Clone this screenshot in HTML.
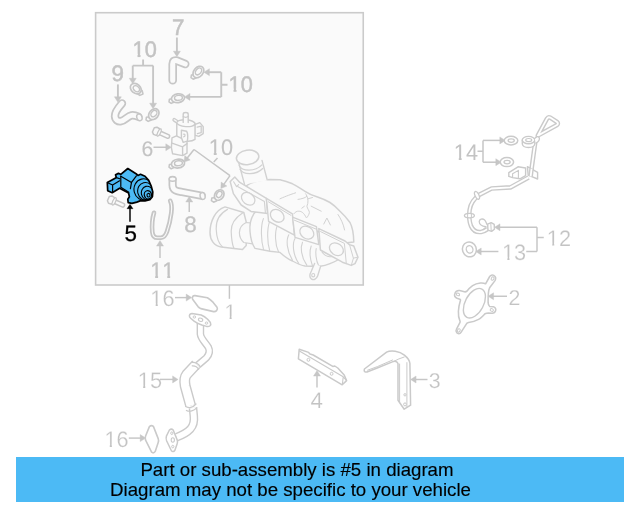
<!DOCTYPE html>
<html><head><meta charset="utf-8"><title>Diagram</title>
<style>
html,body{margin:0;padding:0;background:#fff;}
body{width:640px;height:512px;overflow:hidden;position:relative;font-family:"Liberation Sans",sans-serif;}
#banner{position:absolute;left:16px;top:457px;width:608px;height:44.5px;background:#4cbaf5;}
.bl{filter:blur(0.3px);-webkit-text-stroke:0.15px #000;position:absolute;white-space:nowrap;color:#000;font-family:"Liberation Sans",sans-serif;font-size:18.66px;line-height:21px;height:21px;}
svg{position:absolute;left:0;top:0;}
</style></head><body>
<svg width="640" height="512" viewBox="0 0 640 512" font-family="Liberation Sans, sans-serif" text-rendering="geometricPrecision" style="font-kerning:none">
<rect x="95.6" y="12.7" width="267.65" height="272.3" fill="#fafafa"/>
<g style="filter:blur(0.4px)">
<rect x="95.6" y="12.7" width="267.65" height="272.3" fill="none" stroke="#cbcbcb" stroke-width="1.6"/>
<path d="M229.4,285V298.8" stroke="#c6c6c6" stroke-width="1.45" fill="none"/>
<text transform="translate(171.9 34.7) scale(1.0 1.0)" x="0" y="0" font-size="22.4" fill="#c3c3c3" stroke="#c3c3c3" stroke-width="0.5">7</text>
<clipPath id="k1"><rect x="-2" y="-22.40" width="28.92" height="19.23"/><rect x="5.13" y="-3.27" width="2.98" height="3.52"/><rect x="12.46" y="-3.27" width="13.46" height="7.17"/></clipPath>
<text transform="translate(132.6 57.0) scale(0.97 1.0)" x="0" y="0" font-size="22.4" fill="#c3c3c3" stroke="#c3c3c3" stroke-width="0.5" clip-path="url(#k1)">10</text>
<text transform="translate(111.4 81.4) scale(1.0 1.0)" x="0" y="0" font-size="22.4" fill="#c3c3c3" stroke="#c3c3c3" stroke-width="0.5">9</text>
<clipPath id="k2"><rect x="-2" y="-22.40" width="28.92" height="19.23"/><rect x="5.13" y="-3.27" width="2.98" height="3.52"/><rect x="12.46" y="-3.27" width="13.46" height="7.17"/></clipPath>
<text transform="translate(228.6 91.6) scale(0.97 1.0)" x="0" y="0" font-size="22.4" fill="#c3c3c3" stroke="#c3c3c3" stroke-width="0.5" clip-path="url(#k2)">10</text>
<text transform="translate(141.4 155.5) scale(1.0 1.0)" x="0" y="0" font-size="21.2" fill="#c3c3c3" stroke="#c3c3c3" stroke-width="0.1">6</text>
<clipPath id="k3"><rect x="-2" y="-22.40" width="28.92" height="19.23"/><rect x="5.13" y="-3.27" width="2.98" height="3.32"/><rect x="12.46" y="-3.27" width="13.46" height="7.17"/></clipPath>
<text transform="translate(208.8 155.2) scale(0.97 1.0)" x="0" y="0" font-size="22.4" fill="#c3c3c3" stroke="#c3c3c3" stroke-width="0.1" clip-path="url(#k3)">10</text>
<text transform="translate(124.6 241.3) scale(1.0 1.0)" x="0" y="0" font-size="22.4" fill="#000" stroke="#000" stroke-width="0.3">5</text>
<text transform="translate(184.2 232.3) scale(1.0 1.0)" x="0" y="0" font-size="22.4" fill="#c3c3c3" stroke="#c3c3c3" stroke-width="0.25">8</text>
<clipPath id="k4"><rect x="-2" y="-22.40" width="28.92" height="19.23"/><rect x="5.13" y="-3.27" width="2.98" height="3.40"/><rect x="17.59" y="-3.27" width="2.98" height="3.40"/></clipPath>
<text transform="translate(150.2 277.8) scale(0.97 1.0)" x="0" y="0" font-size="22.4" fill="#c3c3c3" stroke="#c3c3c3" stroke-width="0.25" clip-path="url(#k4)">11</text>
<clipPath id="k5"><rect x="-2" y="-22.40" width="28.92" height="19.23"/><rect x="5.13" y="-3.27" width="2.98" height="3.27"/><rect x="12.46" y="-3.27" width="13.46" height="7.17"/></clipPath>
<text transform="translate(453.8 160.2) scale(0.97 1.0)" x="0" y="0" font-size="22.4" fill="#c3c3c3" clip-path="url(#k5)">14</text>
<clipPath id="k6"><rect x="-2" y="-22.40" width="28.92" height="19.23"/><rect x="5.53" y="-3.27" width="2.18" height="3.27"/><rect x="12.46" y="-3.27" width="13.46" height="7.17"/></clipPath>
<text transform="translate(546.8 245.6) scale(0.97 1.0)" x="0" y="0" font-size="22.4" fill="#c3c3c3" stroke="#ffffff" stroke-width="0.2" clip-path="url(#k6)">12</text>
<clipPath id="k7"><rect x="-2" y="-22.40" width="28.92" height="19.23"/><rect x="5.53" y="-3.27" width="2.18" height="3.27"/><rect x="12.46" y="-3.27" width="13.46" height="7.17"/></clipPath>
<text transform="translate(502.0 260.0) scale(0.97 1.0)" x="0" y="0" font-size="22.4" fill="#c3c3c3" stroke="#ffffff" stroke-width="0.2" clip-path="url(#k7)">13</text>
<text transform="translate(508.4 305.0) scale(1.0 1.0)" x="0" y="0" font-size="21.4" fill="#c3c3c3" stroke="#ffffff" stroke-width="0.2">2</text>
<text transform="translate(428.8 388.0) scale(1.0 1.0)" x="0" y="0" font-size="21.4" fill="#c3c3c3" stroke="#ffffff" stroke-width="0.2">3</text>
<text transform="translate(310.4 407.6) scale(1.0 1.0)" x="0" y="0" font-size="22.4" fill="#c3c3c3" stroke="#ffffff" stroke-width="0.2">4</text>
<clipPath id="k8"><rect x="-2" y="-21.00" width="15.68" height="17.93"/><rect x="5.18" y="-3.17" width="2.06" height="3.17"/></clipPath>
<text transform="translate(224.4 319.4) scale(1.0 1.0)" x="0" y="0" font-size="21" fill="#c3c3c3" stroke="#ffffff" stroke-width="0.2" clip-path="url(#k8)">1</text>
<clipPath id="k9"><rect x="-2" y="-22.40" width="28.92" height="19.23"/><rect x="5.53" y="-3.27" width="2.18" height="3.27"/><rect x="12.46" y="-3.27" width="13.46" height="7.17"/></clipPath>
<text transform="translate(150.3 306.4) scale(0.97 1.0)" x="0" y="0" font-size="22.4" fill="#c3c3c3" stroke="#ffffff" stroke-width="0.2" clip-path="url(#k9)">16</text>
<clipPath id="k10"><rect x="-2" y="-22.40" width="28.92" height="19.23"/><rect x="5.53" y="-3.27" width="2.18" height="3.27"/><rect x="12.46" y="-3.27" width="13.46" height="7.17"/></clipPath>
<text transform="translate(137.8 388.4) scale(0.97 1.0)" x="0" y="0" font-size="22.4" fill="#c3c3c3" stroke="#ffffff" stroke-width="0.25" clip-path="url(#k10)">15</text>
<clipPath id="k11"><rect x="-2" y="-22.40" width="28.92" height="19.23"/><rect x="5.53" y="-3.27" width="2.18" height="3.27"/><rect x="12.46" y="-3.27" width="13.46" height="7.17"/></clipPath>
<text transform="translate(104.4 446.9) scale(0.97 1.0)" x="0" y="0" font-size="22.4" fill="#c3c3c3" stroke="#ffffff" stroke-width="0.2" clip-path="url(#k11)">16</text>
<path d="M176.90,37.50L176.90,52.20" stroke="#c6c6c6" stroke-width="1.9" fill="none"/>
<path d="M176.90,56.70L173.40,51.20L180.40,51.20Z" fill="#c6c6c6" stroke="#c6c6c6" stroke-width="0.4" stroke-linejoin="round"/>
<path d="M143.1,59.4V65.6M132.75,65.6H153.1" stroke="#c6c6c6" stroke-width="1.9" fill="none"/>
<path d="M132.75,65.60L132.75,79.30" stroke="#c6c6c6" stroke-width="1.9" fill="none"/>
<path d="M132.75,83.80L129.25,78.30L136.25,78.30Z" fill="#c6c6c6" stroke="#c6c6c6" stroke-width="0.4" stroke-linejoin="round"/>
<path d="M153.10,65.60L153.10,104.20" stroke="#c6c6c6" stroke-width="1.9" fill="none"/>
<path d="M153.10,108.70L149.60,103.20L156.60,103.20Z" fill="#c6c6c6" stroke="#c6c6c6" stroke-width="0.4" stroke-linejoin="round"/>
<path d="M117.90,84.40L117.90,97.80" stroke="#c6c6c6" stroke-width="1.9" fill="none"/>
<path d="M117.90,102.30L114.40,96.80L121.40,96.80Z" fill="#c6c6c6" stroke="#c6c6c6" stroke-width="0.4" stroke-linejoin="round"/>
<path d="M221.25,72.2V96.9M221.25,84.8H227.5" stroke="#c6c6c6" stroke-width="1.9" fill="none"/>
<path d="M221.25,72.20L208.40,72.20" stroke="#c6c6c6" stroke-width="1.9" fill="none"/>
<path d="M203.90,72.20L209.40,68.70L209.40,75.70Z" fill="#c6c6c6" stroke="#c6c6c6" stroke-width="0.4" stroke-linejoin="round"/>
<path d="M221.25,96.90L189.00,96.90" stroke="#c6c6c6" stroke-width="1.9" fill="none"/>
<path d="M184.50,96.90L190.00,93.40L190.00,100.40Z" fill="#c6c6c6" stroke="#c6c6c6" stroke-width="0.4" stroke-linejoin="round"/>
<path d="M153.50,147.25L166.80,147.25" stroke="#c6c6c6" stroke-width="1.45" fill="none"/>
<path d="M171.30,147.25L165.80,150.75L165.80,143.75Z" fill="#c6c6c6" stroke="#c6c6c6" stroke-width="0.4" stroke-linejoin="round"/>
<path d="M194,149.5L230,175.6M217.5,158L213.75,161.9" stroke="#c6c6c6" stroke-width="1.5" fill="none"/>
<path d="M194.00,149.50L186.86,158.52" stroke="#c6c6c6" stroke-width="1.5" fill="none"/>
<path d="M184.07,162.05L184.74,155.56L190.22,159.91Z" fill="#c6c6c6" stroke="#c6c6c6" stroke-width="0.4" stroke-linejoin="round"/>
<path d="M230.00,175.60L223.44,184.90" stroke="#c6c6c6" stroke-width="1.5" fill="none"/>
<path d="M220.85,188.57L221.16,182.06L226.88,186.10Z" fill="#c6c6c6" stroke="#c6c6c6" stroke-width="0.4" stroke-linejoin="round"/>
<path d="M130.00,221.80L130.00,207.70" stroke="#000" stroke-width="1.45" fill="none"/>
<path d="M130.00,204.30L133.00,208.70L127.00,208.70Z" fill="#000" stroke="#000" stroke-width="0.4" stroke-linejoin="round"/>
<path d="M189.25,212.00L189.25,201.00" stroke="#c6c6c6" stroke-width="1.5" fill="none"/>
<path d="M189.25,196.50L192.75,202.00L185.75,202.00Z" fill="#c6c6c6" stroke="#c6c6c6" stroke-width="0.4" stroke-linejoin="round"/>
<path d="M160.00,258.00L160.00,245.05" stroke="#c6c6c6" stroke-width="1.5" fill="none"/>
<path d="M160.00,240.55L163.50,246.05L156.50,246.05Z" fill="#c6c6c6" stroke="#c6c6c6" stroke-width="0.4" stroke-linejoin="round"/>
<path d="M477.5,151.25H483M483,140.4V162.2" stroke="#c6c6c6" stroke-width="1.5" fill="none"/>
<path d="M483.00,140.40L500.80,140.40" stroke="#c6c6c6" stroke-width="1.5" fill="none"/>
<path d="M505.30,140.40L499.80,143.90L499.80,136.90Z" fill="#c6c6c6" stroke="#c6c6c6" stroke-width="0.4" stroke-linejoin="round"/>
<path d="M483.00,162.20L496.80,162.20" stroke="#c6c6c6" stroke-width="1.5" fill="none"/>
<path d="M501.30,162.20L495.80,165.70L495.80,158.70Z" fill="#c6c6c6" stroke="#c6c6c6" stroke-width="0.4" stroke-linejoin="round"/>
<path d="M537,227.3V251.5M537,237.5H543.75M526.25,251.5H537" stroke="#c6c6c6" stroke-width="1.45" fill="none"/>
<path d="M537.00,227.30L499.00,227.30" stroke="#c6c6c6" stroke-width="1.45" fill="none"/>
<path d="M494.50,227.30L500.00,223.80L500.00,230.80Z" fill="#c6c6c6" stroke="#c6c6c6" stroke-width="0.4" stroke-linejoin="round"/>
<path d="M498.40,251.50L480.20,251.50" stroke="#c6c6c6" stroke-width="1.45" fill="none"/>
<path d="M475.70,251.50L481.20,248.00L481.20,255.00Z" fill="#c6c6c6" stroke="#c6c6c6" stroke-width="0.4" stroke-linejoin="round"/>
<path d="M507.00,296.25L492.55,296.25" stroke="#c6c6c6" stroke-width="1.45" fill="none"/>
<path d="M488.05,296.25L493.55,292.75L493.55,299.75Z" fill="#c6c6c6" stroke="#c6c6c6" stroke-width="0.4" stroke-linejoin="round"/>
<path d="M427.50,379.50L415.05,379.50" stroke="#c6c6c6" stroke-width="1.45" fill="none"/>
<path d="M410.55,379.50L416.05,376.00L416.05,383.00Z" fill="#c6c6c6" stroke="#c6c6c6" stroke-width="0.4" stroke-linejoin="round"/>
<path d="M317.00,387.50L317.00,375.05" stroke="#c6c6c6" stroke-width="1.45" fill="none"/>
<path d="M317.00,370.55L320.50,376.05L313.50,376.05Z" fill="#c6c6c6" stroke="#c6c6c6" stroke-width="0.4" stroke-linejoin="round"/>
<path d="M175.00,297.60L187.20,297.60" stroke="#c6c6c6" stroke-width="1.45" fill="none"/>
<path d="M191.70,297.60L186.20,301.10L186.20,294.10Z" fill="#c6c6c6" stroke="#c6c6c6" stroke-width="0.4" stroke-linejoin="round"/>
<path d="M160.00,379.40L173.60,379.40" stroke="#c6c6c6" stroke-width="1.45" fill="none"/>
<path d="M178.10,379.40L172.60,382.90L172.60,375.90Z" fill="#c6c6c6" stroke="#c6c6c6" stroke-width="0.4" stroke-linejoin="round"/>
<path d="M128.80,438.10L141.20,438.10" stroke="#c6c6c6" stroke-width="1.45" fill="none"/>
<path d="M145.70,438.10L140.20,441.60L140.20,434.60Z" fill="#c6c6c6" stroke="#c6c6c6" stroke-width="0.4" stroke-linejoin="round"/>
<path d="M172.7,80.2V64Q172.7,59.8 176.6,60.6L185.2,64.0" fill="none" stroke="#c6c6c6" stroke-width="8.6" stroke-linejoin="round" stroke-linecap="round"/>
<path d="M172.7,80.2V64Q172.7,59.8 176.6,60.6L185.2,64.0" fill="none" stroke="#fafafa" stroke-width="5.1" stroke-linejoin="round" stroke-linecap="round"/>
<g transform="translate(135.8 88.6)">
<path d="M2.1999999999999997,2.6L6.3999999999999995,2.0L7.199999999999999,5.4L3.9999999999999996,6.800000000000001L1.7999999999999998,5.2Z" fill="#fafafa" stroke="#c6c6c6" stroke-width="1.5" stroke-linejoin="round"/>
<ellipse cx="0" cy="0" rx="6.0" ry="4.6" fill="#fafafa" stroke="#c6c6c6" stroke-width="1.7" transform="rotate(40)"/>
<ellipse cx="0.5" cy="-0.3" rx="3.60" ry="2.58" fill="#fafafa" stroke="#c6c6c6" stroke-width="1.4" transform="rotate(40)"/>
</g>
<g transform="translate(198.4 72.0)">
<path d="M-7.0,2.9999999999999996L-2.8,2.3999999999999995L-1.9999999999999996,5.8L-5.199999999999999,7.199999999999999L-7.3999999999999995,5.6Z" fill="#fafafa" stroke="#c6c6c6" stroke-width="1.5" stroke-linejoin="round"/>
<ellipse cx="0" cy="0" rx="6.4" ry="4.6" fill="#fafafa" stroke="#c6c6c6" stroke-width="1.7" transform="rotate(-50)"/>
<ellipse cx="0.5" cy="-0.3" rx="3.84" ry="2.58" fill="#fafafa" stroke="#c6c6c6" stroke-width="1.4" transform="rotate(-50)"/>
</g>
<g transform="translate(178.0 98.2)">
<path d="M-8.6,1.0L-4.4,0.3999999999999999L-3.6,3.8L-6.8,5.2L-9.0,3.6Z" fill="#fafafa" stroke="#c6c6c6" stroke-width="1.5" stroke-linejoin="round"/>
<ellipse cx="0" cy="0" rx="6.6" ry="4.4" fill="#fafafa" stroke="#c6c6c6" stroke-width="1.7" transform="rotate(-8)"/>
<ellipse cx="0.5" cy="-0.3" rx="3.96" ry="2.46" fill="#fafafa" stroke="#c6c6c6" stroke-width="1.4" transform="rotate(-8)"/>
</g>
<g transform="translate(153.8 114.2)">
<path d="M-7.4,2.9999999999999996L-3.2,2.3999999999999995L-2.4,5.8L-5.6,7.199999999999999L-7.8,5.6Z" fill="#fafafa" stroke="#c6c6c6" stroke-width="1.5" stroke-linejoin="round"/>
<ellipse cx="0" cy="0" rx="6.0" ry="4.6" fill="#fafafa" stroke="#c6c6c6" stroke-width="1.7" transform="rotate(-50)"/>
<ellipse cx="0.5" cy="-0.3" rx="3.60" ry="2.58" fill="#fafafa" stroke="#c6c6c6" stroke-width="1.4" transform="rotate(-50)"/>
</g>
<g transform="translate(178.0 163.6)">
<path d="M-8.6,1.0L-4.4,0.3999999999999999L-3.6,3.8L-6.8,5.2L-9.0,3.6Z" fill="#fafafa" stroke="#c6c6c6" stroke-width="1.5" stroke-linejoin="round"/>
<ellipse cx="0" cy="0" rx="6.6" ry="4.4" fill="#fafafa" stroke="#c6c6c6" stroke-width="1.7" transform="rotate(-8)"/>
<ellipse cx="0.5" cy="-0.3" rx="3.96" ry="2.46" fill="#fafafa" stroke="#c6c6c6" stroke-width="1.4" transform="rotate(-8)"/>
</g>
<g transform="translate(219.2 195.0)">
<path d="M-7.4,2.9999999999999996L-3.2,2.3999999999999995L-2.4,5.8L-5.6,7.199999999999999L-7.8,5.6Z" fill="#fafafa" stroke="#c6c6c6" stroke-width="1.5" stroke-linejoin="round"/>
<ellipse cx="0" cy="0" rx="5.6" ry="4.4" fill="#fafafa" stroke="#c6c6c6" stroke-width="1.7" transform="rotate(-55)"/>
<ellipse cx="0.5" cy="-0.3" rx="3.36" ry="2.46" fill="#fafafa" stroke="#c6c6c6" stroke-width="1.4" transform="rotate(-55)"/>
</g>
<path d="M122,103.4C118.5,107.4 114.6,112 115,116.2C115.3,120 118,121.8 121,121.2C125,120.4 127.5,116.2 131.5,115.4C134,115 136.2,115.8 138.4,116.8" fill="none" stroke="#c6c6c6" stroke-width="8.4" stroke-linejoin="round" stroke-linecap="round"/>
<path d="M122,103.4C118.5,107.4 114.6,112 115,116.2C115.3,120 118,121.8 121,121.2C125,120.4 127.5,116.2 131.5,115.4C134,115 136.2,115.8 138.4,116.8" fill="none" stroke="#fafafa" stroke-width="4.9" stroke-linejoin="round" stroke-linecap="round"/>
<ellipse cx="139.4" cy="117.4" rx="2.6" ry="3.4" fill="#fafafa" stroke="#c6c6c6" stroke-width="1.4" transform="rotate(-20 139.4 117.4)"/>
<path d="M172.6,179.8V185.0C172.6,190.8 177.4,191.2 182,192.0L201.6,195.8" fill="none" stroke="#c6c6c6" stroke-width="8.2" stroke-linejoin="round" stroke-linecap="round"/>
<path d="M172.6,179.8V185.0C172.6,190.8 177.4,191.2 182,192.0L201.6,195.8" fill="none" stroke="#fafafa" stroke-width="4.699999999999999" stroke-linejoin="round" stroke-linecap="round"/>
<ellipse cx="202.6" cy="196.0" rx="2.5" ry="3.5" fill="#fafafa" stroke="#c6c6c6" stroke-width="1.4" transform="rotate(-12 202.6 196.0)"/>
<ellipse cx="172.6" cy="179.0" rx="3.5" ry="2.2" fill="#fafafa" stroke="#c6c6c6" stroke-width="1.4"/>
<path d="M154.0,212.8C152.4,218 151.8,226 152.3,232C152.7,236 154.6,237.8 157.4,237.8L161,237.8C164,237.6 165.8,235 167,231.6C168.6,227 170.4,220 171.3,213C172.0,207.6 171.6,203.4 170.2,200.8" fill="none" stroke="#c6c6c6" stroke-width="4.6" stroke-linejoin="round" stroke-linecap="round"/>
<path d="M154.0,212.8C152.4,218 151.8,226 152.3,232C152.7,236 154.6,237.8 157.4,237.8L161,237.8C164,237.6 165.8,235 167,231.6C168.6,227 170.4,220 171.3,213C172.0,207.6 171.6,203.4 170.2,200.8" fill="none" stroke="#fafafa" stroke-width="1.0999999999999996" stroke-linejoin="round" stroke-linecap="round"/>
<g transform="translate(156.6 131.4) rotate(24) scale(1.0)">
<rect x="2" y="-1.9" width="12" height="3.8" rx="1.8" fill="#fafafa" stroke="#c6c6c6" stroke-width="1.5"/>
<path d="M-3.6,-2.4L-1.4,-4.0L1.6,-3.6L3.0,-1L3.0,1.6L1.2,3.8L-1.6,4.0L-3.6,2.2Z" fill="#fafafa" stroke="#c6c6c6" stroke-width="1.5" stroke-linejoin="round"/>
<ellipse cx="2.8" cy="0" rx="1.4" ry="4.0" fill="#fafafa" stroke="#c6c6c6" stroke-width="1.2"/>
</g>
<g transform="translate(111.6 200.2) rotate(24) scale(1.0)">
<rect x="2" y="-1.9" width="12" height="3.8" rx="1.8" fill="#fafafa" stroke="#c6c6c6" stroke-width="1.5"/>
<path d="M-3.6,-2.4L-1.4,-4.0L1.6,-3.6L3.0,-1L3.0,1.6L1.2,3.8L-1.6,4.0L-3.6,2.2Z" fill="#fafafa" stroke="#c6c6c6" stroke-width="1.5" stroke-linejoin="round"/>
<ellipse cx="2.8" cy="0" rx="1.4" ry="4.0" fill="#fafafa" stroke="#c6c6c6" stroke-width="1.2"/>
</g>
<path d="M174.2,119.8L178.4,122.6" fill="none" stroke="#cccccc" stroke-width="3.8" stroke-linejoin="round" stroke-linecap="round"/>
<path d="M174.2,119.8L178.4,122.6" fill="none" stroke="#fafafa" stroke-width="1.1999999999999997" stroke-linejoin="round" stroke-linecap="round"/>
<path d="M194.6,124.6L199.8,122.6L203.2,126.6L203.2,133.6L198.8,136.4L194.6,135.2Z" fill="#fafafa" stroke="#cccccc" stroke-width="1.4" stroke-linejoin="round" stroke-linecap="round" />
<path d="M197.2,127.2L201.2,126.2V132.6L197.4,133.6" fill="none" stroke="#cccccc" stroke-width="1.3" stroke-linejoin="round" stroke-linecap="round" />
<path d="M176.8,123.2V137.6C180,141.4 191,142.4 195,139.4V123.2Z" fill="#fafafa" stroke="#cccccc" stroke-width="1.4" stroke-linejoin="round" stroke-linecap="round" />
<ellipse cx="185.9" cy="123.2" rx="9.1" ry="3.4" fill="#fafafa" stroke="#cccccc" stroke-width="1.4" transform="rotate(4 185.9 123.2)"/>
<path d="M183.2,122.4V114.2C183.2,112 188.2,112 188.2,114.2V122.6" fill="#fafafa" stroke="#cccccc" stroke-width="1.4" stroke-linejoin="round" stroke-linecap="round" />
<path d="M183.2,116.4C184.4,117.6 187,117.6 188.2,116.4" fill="none" stroke="#cccccc" stroke-width="1.2" stroke-linejoin="round" stroke-linecap="round" />
<path d="M172,137.8L176.4,135.8L187,141.2V153.2L182.6,155.6L172.6,153.8L171.4,147.6Z" fill="#fafafa" stroke="#cccccc" stroke-width="1.4" stroke-linejoin="round" stroke-linecap="round" />
<path d="M172,143.2L182.6,146.8L187,143.6M182.6,146.8V155.4" fill="none" stroke="#cccccc" stroke-width="1.4" stroke-linejoin="round" stroke-linecap="round" />
<path d="M181.4,130.2L186.6,131.2C188,133 188,138.6 187.2,141.2L183.2,142.4L181.4,137.6Z" fill="#fafafa" stroke="#cccccc" stroke-width="1.4" stroke-linejoin="round" stroke-linecap="round" />
<path d="M183.4,134.2C185.4,133.6 185.6,136.6 183.6,136.8" fill="none" stroke="#cccccc" stroke-width="1.2" stroke-linejoin="round" stroke-linecap="round" />
<clipPath id="p5c"><path d="M127.8,168.5L136.8,174.3L138.0,175.5L140.5,174.3L145.0,176.3L148.7,180.4L151.2,186.1L152.8,191.9L152.4,196.8L149.9,199.7L145.0,200.9L140.1,200.9L136.8,202.1L131.9,203.4L128.2,202.6L127.8,199.3L129.4,196.8L128.6,193.1L119.6,188.2L112.2,192.7L107.7,190.7L107.3,182.5L114.7,178.4L116.3,177.5L115.5,174.7L118.4,173.4L120.8,174.3Z"/></clipPath>
<path d="M127.8,168.5L136.8,174.3L138.0,175.5L140.5,174.3L145.0,176.3L148.7,180.4L151.2,186.1L152.8,191.9L152.4,196.8L149.9,199.7L145.0,200.9L140.1,200.9L136.8,202.1L131.9,203.4L128.2,202.6L127.8,199.3L129.4,196.8L128.6,193.1L119.6,188.2L112.2,192.7L107.7,190.7L107.3,182.5L114.7,178.4L116.3,177.5L115.5,174.7L118.4,173.4L120.8,174.3Z" fill="#4cbaf5" stroke="#000" stroke-width="1.7" stroke-linejoin="round"/>
<path d="M120.8,176.2L131.5,182.4L136.4,175.8" fill="none" stroke="#000" stroke-width="1.2" stroke-linejoin="round" stroke-linecap="round"/>
<path d="M120.8,176.2L120.8,187.2L128.8,192.2" fill="none" stroke="#000" stroke-width="1.2" stroke-linejoin="round" stroke-linecap="round"/>
<path d="M131.5,182.4L130.4,188.6" fill="none" stroke="#000" stroke-width="1.2" stroke-linejoin="round" stroke-linecap="round"/>
<path d="M107.6,182.8L112.6,185.0L119.6,180.8M112.6,185.0V192.0" fill="none" stroke="#000" stroke-width="1.2" stroke-linejoin="round" stroke-linecap="round"/>
<path d="M116.4,177.6L119.8,178.8" fill="none" stroke="#000" stroke-width="1.2" stroke-linejoin="round" stroke-linecap="round"/>
<g clip-path="url(#p5c)">
<ellipse cx="144.0" cy="189.6" rx="10.0" ry="10.8" fill="none" stroke="#000" stroke-width="1.1" transform="rotate(-14 144.0 189.6)"/>
<ellipse cx="145.8" cy="191.4" rx="8.1" ry="9.0" fill="none" stroke="#000" stroke-width="1.1" transform="rotate(-14 145.8 191.4)"/>
<ellipse cx="147.5" cy="193.2" rx="6.1" ry="7.0" fill="none" stroke="#000" stroke-width="1.1" transform="rotate(-14 147.5 193.2)"/>
</g>
<ellipse cx="147.9" cy="194.8" rx="3.6" ry="4.2" fill="#4cbaf5" stroke="#000" stroke-width="1.2" transform="rotate(-14 147.9 194.8)"/>
<ellipse cx="148.5" cy="195.2" rx="1.5" ry="1.8" fill="#4cbaf5" stroke="#000" stroke-width="1.1" transform="rotate(-14 148.5 195.2)"/>
<path d="M246,186C252,181.6 262,180 270,179.6L280,179.8C285,181 289,182.4 292.5,183.8C297,186 301,189 305,191.3C309,194 313,195.6 317.5,197C322,198.5 326,200 330,202.5C334,205 337,208 340,211.3C344,215 347,218.5 350,222.5C352.4,227 353.6,233 353.8,242L345,243L300,226L262,200Z" fill="#fafafa" stroke="#d2d2d2" stroke-width="1.5" stroke-linejoin="round" stroke-linecap="round" />
<path d="M280,198.8C283,197.4 289,195 295.6,192.8" fill="none" stroke="#d2d2d2" stroke-width="1.0" stroke-linejoin="round" stroke-linecap="round" />
<path d="M298,199.4C301,199 305.4,198 306.9,196.2C306.6,195 306,194.4 305.6,193.8" fill="none" stroke="#d2d2d2" stroke-width="1.0" stroke-linejoin="round" stroke-linecap="round" />
<path d="M306.9,196.2C308.4,198.6 308.4,203 306.9,206.2C307.4,209 309.4,210.6 309.4,212.5C309,215 307.6,216.6 306.9,217.5" fill="none" stroke="#d2d2d2" stroke-width="1.0" stroke-linejoin="round" stroke-linecap="round" />
<path d="M308,198.8L312.5,197.5M311.2,206.2L321.2,211.2M301.8,208.2L304.4,206.2" fill="none" stroke="#d2d2d2" stroke-width="1.0" stroke-linejoin="round" stroke-linecap="round" />
<path d="M293.8,213.8C295,212 297,211 298.8,211.2C301.6,211.2 304,213 306.2,217.5" fill="none" stroke="#d2d2d2" stroke-width="1.0" stroke-linejoin="round" stroke-linecap="round" />
<path d="M323.8,224L326.9,218L330.4,225" fill="none" stroke="#d2d2d2" stroke-width="1.0" stroke-linejoin="round" stroke-linecap="round" />
<path d="M338,214.5C341,219 343.4,224 344.6,230" fill="none" stroke="#d2d2d2" stroke-width="1.0" stroke-linejoin="round" stroke-linecap="round" />
<path d="M238.6,160L244.4,184L267.4,180.4L261.6,158Z" fill="#fafafa" stroke="#fafafa" stroke-width="0.5" stroke-linejoin="round" stroke-linecap="round" />
<path d="M238.4,161.4L244.6,184.6M262.0,160.4L267.2,179.8" fill="none" stroke="#d2d2d2" stroke-width="1.4" stroke-linejoin="round" stroke-linecap="round" />
<path d="M238.9,165.2C242,171.6 255,172 262.2,164.6" fill="none" stroke="#d2d2d2" stroke-width="1.3"/>
<path d="M239.8,169.0C243,175.2 256,175.4 263.0,168.2" fill="none" stroke="#d2d2d2" stroke-width="1.3"/>
<ellipse cx="247.6" cy="157.4" rx="11.3" ry="7.2" fill="#fafafa" stroke="#d2d2d2" stroke-width="1.5" transform="rotate(-8 247.6 157.4)"/>
<path d="M225,206.9C215,210 210,222 210,232.5C210,240 214,246 221.2,246.9L242.5,249.4L246.2,245.4L246.4,222.6L243.8,212.5Z" fill="#fafafa" stroke="#d2d2d2" stroke-width="1.5" stroke-linejoin="round" stroke-linecap="round" />
<path d="M227.5,209.4C219,214 216,222 216.2,228.8C216.5,238 219,244 222.5,246.9" fill="none" stroke="#d2d2d2" stroke-width="1.2" stroke-linejoin="round" stroke-linecap="round" />
<path d="M242.5,213C235,218 231,225 231.2,231.2C231.5,240 232.5,245 233.8,248" fill="none" stroke="#d2d2d2" stroke-width="1.2" stroke-linejoin="round" stroke-linecap="round" />
<path d="M246.2,222.5C241,225 239.4,229 239.4,232.5C239.4,237 241,240 243.8,242.5L252.5,243.8L252,223.2Z" fill="#fafafa" stroke="#d2d2d2" stroke-width="1.2" stroke-linejoin="round" stroke-linecap="round" />
<path d="M253.8,213.8C250,220 249.5,226 250,231.2C250.5,238 252,244 255,248.4L270,251.2L280,252.4C284,256 288,259 292.5,261C297,263.4 301,265.4 305,266L311.4,266.2L320,266.2C324,266 327,265 330,263.6C334,262 337.4,260.4 340.5,258.5L345,243L300,224L262,205Z" fill="#fafafa" stroke="#d2d2d2" stroke-width="1.4" stroke-linejoin="round" stroke-linecap="round" />
<path d="M263.4,218.6C260.6,226 260.8,240 263.6,249.8" fill="none" stroke="#d2d2d2" stroke-width="1.1" stroke-linejoin="round" stroke-linecap="round" />
<path d="M269.6,221.4C267,229 267,242 269.8,251" fill="none" stroke="#d2d2d2" stroke-width="1.1" stroke-linejoin="round" stroke-linecap="round" />
<path d="M277.4,225.4C274.6,232 274.8,244 278.6,252" fill="none" stroke="#d2d2d2" stroke-width="1.1" stroke-linejoin="round" stroke-linecap="round" />
<path d="M288.8,234.8C286,240 286.4,250 292.5,260.4" fill="none" stroke="#d2d2d2" stroke-width="1.1" stroke-linejoin="round" stroke-linecap="round" />
<path d="M295,238.5C292.4,243 292.4,254 298.8,263.6" fill="none" stroke="#d2d2d2" stroke-width="1.1" stroke-linejoin="round" stroke-linecap="round" />
<path d="M302.5,242.2C300.4,247 300.6,256 306.9,265.4" fill="none" stroke="#d2d2d2" stroke-width="1.1" stroke-linejoin="round" stroke-linecap="round" />
<path d="M311.2,246C309.6,250 309.8,258 312.5,266" fill="none" stroke="#d2d2d2" stroke-width="1.1" stroke-linejoin="round" stroke-linecap="round" />
<path d="M316.2,248.5C315.4,252 315.6,260 318.8,266" fill="none" stroke="#d2d2d2" stroke-width="1.1" stroke-linejoin="round" stroke-linecap="round" />
<path d="M322,252C326,258 333,258 338,254" fill="none" stroke="#d2d2d2" stroke-width="1.1" stroke-linejoin="round" stroke-linecap="round" />
<path d="M314.6,263.4L311.4,271C309.4,274.6 309.4,277.6 311.6,279.2C314,280.4 316.4,279 317.6,276L320.6,266.4" fill="#fafafa" stroke="#d2d2d2" stroke-width="1.4" stroke-linejoin="round" stroke-linecap="round" />
<ellipse cx="313.2" cy="275.2" rx="1.5" ry="1.7" fill="#fafafa" stroke="#d2d2d2" stroke-width="1.1"/>
<path d="M230.2,181.6L234.8,177.0L239.8,182.4L266.4,198.4L267.6,213.4L251,211.4L241.2,205L233.4,193.6Z" fill="#fafafa" stroke="#d2d2d2" stroke-width="1.5" stroke-linejoin="round" stroke-linecap="round" />
<path d="M233.6,181.8L236.6,186.6L238.6,184.6" fill="none" stroke="#d2d2d2" stroke-width="1.1" stroke-linejoin="round" stroke-linecap="round" />
<path d="M237.6,186.4L264.4,201.6L265.4,212.6" fill="none" stroke="#d2d2d2" stroke-width="1.1" stroke-linejoin="round" stroke-linecap="round" />
<ellipse cx="248.2" cy="198.8" rx="7.4" ry="5.6" fill="#fafafa" stroke="#d2d2d2" stroke-width="1.3" transform="rotate(38 248.2 198.8)"/>
<path d="M266.4,198.4L292.4,213.8L294.4,235.2L268.6,221.4Z" fill="#fafafa" stroke="#d2d2d2" stroke-width="1.4" stroke-linejoin="round" stroke-linecap="round" />
<ellipse cx="277.2" cy="215.8" rx="7.4" ry="5.8" fill="#fafafa" stroke="#d2d2d2" stroke-width="1.3" transform="rotate(38 277.2 215.8)"/>
<path d="M268.4,201.8L291.0,215.4" fill="none" stroke="#d2d2d2" stroke-width="1.0" stroke-linejoin="round" stroke-linecap="round" />
<path d="M292.6,217.2L316.4,226.6L318.8,244.6L295,237.4Z" fill="#fafafa" stroke="#d2d2d2" stroke-width="1.4" stroke-linejoin="round" stroke-linecap="round" />
<ellipse cx="306.8" cy="232.6" rx="7.5" ry="5.9" fill="#fafafa" stroke="#d2d2d2" stroke-width="1.3" transform="rotate(35 306.8 232.6)"/>
<path d="M294.4,220.2L316.4,229.2" fill="none" stroke="#d2d2d2" stroke-width="1.0" stroke-linejoin="round" stroke-linecap="round" />
<path d="M318.8,228.6L345,241L349.4,244.6L353.8,246L358,257.2L355,263.6L351.2,265.4L342.4,262.2L320.4,250Z" fill="#fafafa" stroke="#d2d2d2" stroke-width="1.5" stroke-linejoin="round" stroke-linecap="round" />
<path d="M320.6,231.6L344.4,243.4L346.2,262.6M349.6,245.0L353.4,258.2L351.4,265.0M353.4,258.2L357.6,257.2" fill="none" stroke="#d2d2d2" stroke-width="1.0" stroke-linejoin="round" stroke-linecap="round" />
<ellipse cx="336.4" cy="249.2" rx="7.5" ry="5.8" fill="#fafafa" stroke="#d2d2d2" stroke-width="1.3" transform="rotate(35 336.4 249.2)"/>
<path d="M537.8,135.6L547.0,118.6Q548.2,116.6 550.2,117.6L557,122.0Q558.8,123.6 557,125.0Z" fill="none" stroke="#cacaca" stroke-width="4.6" stroke-linejoin="round" stroke-linecap="round"/>
<path d="M537.8,135.6L547.0,118.6Q548.2,116.6 550.2,117.6L557,122.0Q558.8,123.6 557,125.0Z" fill="none" stroke="#ffffff" stroke-width="1.7999999999999998" stroke-linejoin="round" stroke-linecap="round"/>
<path d="M535.4,141L531.4,170" fill="none" stroke="#cacaca" stroke-width="4.6" stroke-linejoin="round" stroke-linecap="butt"/>
<path d="M535.4,141L531.4,170" fill="none" stroke="#ffffff" stroke-width="1.7999999999999998" stroke-linejoin="round" stroke-linecap="butt"/>
<path d="M522.3,140.2V144C523,148.6 534,148.6 534.8,144V140.2Z" fill="#ffffff" stroke="#cacaca" stroke-width="1.4" stroke-linejoin="round" stroke-linecap="round" />
<ellipse cx="528.5" cy="140.1" rx="6.3" ry="3.7" fill="#ffffff" stroke="#cacaca" stroke-width="1.4"/>
<ellipse cx="528.7" cy="140.1" rx="3.0" ry="1.6" fill="#ffffff" stroke="#cacaca" stroke-width="1.2"/>
<path d="M534.6,138.6C536,136.4 538,136.2 539.2,137.6C540,139.4 538.6,142 536,143" fill="#ffffff" stroke="#cacaca" stroke-width="1.3" stroke-linejoin="round" stroke-linecap="round" />
<path d="M528.6,177.4L510.4,187.4L491.6,188.5L479.6,194.6C474,198.6 470.4,204 469.6,210C468.8,216 469.4,222 471,226C473,230.6 477,232.4 481,232C483.4,231.6 485.6,230.4 487.6,229" fill="none" stroke="#cacaca" stroke-width="4.6" stroke-linejoin="round" stroke-linecap="butt"/>
<path d="M528.6,177.4L510.4,187.4L491.6,188.5L479.6,194.6C474,198.6 470.4,204 469.6,210C468.8,216 469.4,222 471,226C473,230.6 477,232.4 481,232C483.4,231.6 485.6,230.4 487.6,229" fill="none" stroke="#ffffff" stroke-width="1.7999999999999998" stroke-linejoin="round" stroke-linecap="butt"/>
<path d="M508.8,172.6L518.0,166.8L525.6,168.0V175.6L520,178.8L512.5,177.6L508.8,176.4Z" fill="#ffffff" stroke="#cacaca" stroke-width="1.4" stroke-linejoin="round" stroke-linecap="round" />
<path d="M512.6,173.8L518.4,170.4V177.6M512.6,173.8V177.4" fill="none" stroke="#cacaca" stroke-width="1.1" stroke-linejoin="round" stroke-linecap="round" />
<path d="M527.4,166.6L537.6,172.4V179L528.2,175.2Z" fill="#ffffff" stroke="#cacaca" stroke-width="1.4" stroke-linejoin="round" stroke-linecap="round" />
<path d="M531.6,168.6L530.6,176.4" fill="none" stroke="#cacaca" stroke-width="4.6" stroke-linejoin="round" stroke-linecap="butt"/>
<path d="M531.6,168.6L530.6,176.4" fill="none" stroke="#ffffff" stroke-width="1.7999999999999998" stroke-linejoin="round" stroke-linecap="butt"/>
<ellipse cx="477.0" cy="195.4" rx="1.9" ry="4.2" fill="#ffffff" stroke="#cacaca" stroke-width="1.3" transform="rotate(-25 477.0 195.4)"/>
<ellipse cx="469.4" cy="215.6" rx="5.0" ry="2.3" fill="#ffffff" stroke="#cacaca" stroke-width="1.3"/>
<path d="M467.6,213.6V217.6M471.4,213.6V217.6" fill="none" stroke="#cacaca" stroke-width="1.0" stroke-linejoin="round" stroke-linecap="round" />
<path d="M487.6,224.2L491.2,222.6L494.2,224.4L494.4,229.2L491.6,231.4L488.0,230.2Z" fill="#ffffff" stroke="#cacaca" stroke-width="1.4" stroke-linejoin="round" stroke-linecap="round" />
<path d="M490.8,223.2L491.2,231" fill="none" stroke="#cacaca" stroke-width="1.0" stroke-linejoin="round" stroke-linecap="round" />
<path d="M485.6,226.6C482,226.4 479.2,224.4 479.2,221.6C479.4,219.2 482.4,218.2 484.4,219.8C486.2,221.2 486,223.6 487.6,225.2" fill="#ffffff" stroke="#cacaca" stroke-width="1.3" stroke-linejoin="round" stroke-linecap="round" />
<path d="M483.4,229.2L486.0,226.6" fill="none" stroke="#cacaca" stroke-width="1.0" stroke-linejoin="round" stroke-linecap="round" />
<ellipse cx="511.0" cy="140.6" rx="6.8" ry="4.3" fill="#ffffff" stroke="#cacaca" stroke-width="1.5"/>
<ellipse cx="511.2" cy="140.6" rx="3.1" ry="1.7" fill="#ffffff" stroke="#cacaca" stroke-width="1.3"/>
<ellipse cx="506.9" cy="162.1" rx="6.7" ry="4.5" fill="#ffffff" stroke="#cacaca" stroke-width="1.5"/>
<ellipse cx="507.09999999999997" cy="162.1" rx="3.1" ry="1.8" fill="#ffffff" stroke="#cacaca" stroke-width="1.3"/>
<ellipse cx="469.4" cy="249.4" rx="6.9" ry="7.5" fill="#ffffff" stroke="#cacaca" stroke-width="1.5" transform="rotate(-20 469.4 249.4)"/>
<ellipse cx="469.59999999999997" cy="249.4" rx="3.3" ry="3.8" fill="#ffffff" stroke="#cacaca" stroke-width="1.3" transform="rotate(-20 469.59999999999997 249.4)"/>
<path d="M485.6,283.8L489.4,277.0C490.4,275.0 492.4,274.6 493.8,275.4C495.6,276.4 496.0,278.6 495.0,280.6L489.6,287.8C488.4,290 488.0,295 488.1,302.4C488.2,304.4 488.6,305.8 489.6,306.4L493.4,306.8C495.4,307.2 496.2,309.2 495.6,310.8C495.0,312.6 493.4,313.4 491.6,313.2L488.6,313.0C487.0,313.0 485.8,313.4 485.0,313.8C483,316 481,318.2 478.6,319.4C475.6,321 471.6,322.2 468.6,322.6C467.6,322.8 467.2,323.0 466.8,323.4L461.0,332.4C460.0,334.0 457.8,334.0 456.8,332.8C455.8,331.6 455.8,330.4 456.4,329.4L460.0,322.4C460.2,322 460.2,321.6 460.0,321.2C458.6,318 458.2,314.6 458.4,311.2C458.6,307.4 459.4,303.6 460.4,300.4C460.6,299.8 460.4,299.4 459.8,299.2L457.0,298.2C455.0,297.4 454.2,295.6 454.8,293.8C455.4,291.6 457.4,290.4 459.6,290.6L464.4,291.8C465.4,292.0 466.2,291.8 466.9,291.2C468.6,289 470.6,287 472.6,285.6C475,284 478,283.2 480.4,283.0C482.4,282.8 484.4,283.2 485.6,283.8Z" fill="#ffffff" stroke="#cacaca" stroke-width="1.55" stroke-linejoin="round" stroke-linecap="round" />
<ellipse cx="474.4" cy="303.2" rx="16.0" ry="9.2" fill="#ffffff" stroke="#cacaca" stroke-width="1.4" transform="rotate(-62 474.4 303.2)"/>
<ellipse cx="492.6" cy="278.6" rx="1.3" ry="1.8" fill="#ffffff" stroke="#cacaca" stroke-width="1.0" transform="rotate(30 492.6 278.6)"/>
<ellipse cx="458.0" cy="294.4" rx="1.7" ry="1.3" fill="#ffffff" stroke="#cacaca" stroke-width="1.0" transform="rotate(20 458.0 294.4)"/>
<ellipse cx="491.8" cy="310.0" rx="1.7" ry="1.3" fill="#ffffff" stroke="#cacaca" stroke-width="1.0" transform="rotate(30 491.8 310.0)"/>
<ellipse cx="458.8" cy="330.4" rx="1.3" ry="1.8" fill="#ffffff" stroke="#cacaca" stroke-width="1.0" transform="rotate(30 458.8 330.4)"/>
<path d="M364.4,369.0L386.6,352.2C389,350.8 392.4,350.8 395.2,351.2C399,351.8 402,353.2 404.4,355.2C407.4,357.6 409.4,360 409.9,363.4L410.6,405.2L404.2,409.2L398,400.2V363.6C397.4,362 395.6,361 393.6,361.4L377.2,368.0L367,372.0C365.4,372.4 364.2,371.6 364.2,370.4Z" fill="#ffffff" stroke="#cacaca" stroke-width="1.5" stroke-linejoin="round" stroke-linecap="round" />
<path d="M393.8,361.4C397,359.6 400.6,358.0 404.2,357.0M406.9,362.6V406.6M367.6,370.2L377.4,366.6L392.6,360.0M399.6,364V401.6" fill="none" stroke="#cacaca" stroke-width="1.0" stroke-linejoin="round" stroke-linecap="round" />
<ellipse cx="405.0" cy="394.8" rx="1.1" ry="1.2" fill="#ffffff" stroke="#cacaca" stroke-width="1.0"/>
<ellipse cx="405.0" cy="404.4" rx="1.4" ry="1.5" fill="#ffffff" stroke="#cacaca" stroke-width="1.0"/>
<path d="M299.2,349.2L308.6,352.4L310.0,354.0L313.2,355.0L332.8,366.4L334.8,366.0L337.8,368.0L344.2,375.0L346.6,380.6L342.2,384.8L298.4,358.8Z" fill="#ffffff" stroke="#cacaca" stroke-width="1.5" stroke-linejoin="round" stroke-linecap="round" />
<path d="M299.8,351.2L343.2,376.8L342.4,384.4M343.2,376.8L346.2,380.2" fill="none" stroke="#cacaca" stroke-width="1.1" stroke-linejoin="round" stroke-linecap="round" />
<ellipse cx="308.4" cy="359.8" rx="1.4" ry="1.5" fill="#ffffff" stroke="#cacaca" stroke-width="1.0"/>
<ellipse cx="331.6" cy="373.8" rx="1.4" ry="1.5" fill="#ffffff" stroke="#cacaca" stroke-width="1.0"/>
<path d="M200.4,322L200.4,334C200.8,339 206.0,343 208.4,347.4C210.2,351.0 209,354.8 206.4,357.8L198,365" fill="none" stroke="#cacaca" stroke-width="7.6" stroke-linejoin="round" stroke-linecap="butt"/>
<path d="M200.4,322L200.4,334C200.8,339 206.0,343 208.4,347.4C210.2,351.0 209,354.8 206.4,357.8L198,365" fill="none" stroke="#ffffff" stroke-width="4.8" stroke-linejoin="round" stroke-linecap="butt"/>
<path d="M189.4,315.6Q189.8,313.4 192.0,313.4L201.2,315.0Q204.6,316.4 207.6,319.2L210.4,322.6Q211.4,324.6 209.8,326.0Q208.6,326.8 206.6,326.4L201.8,325.0Q197.6,323.6 194.4,321.4L190.6,318.2Q189.2,317.0 189.4,315.6Z" fill="#ffffff" stroke="#cacaca" stroke-width="1.5" stroke-linejoin="round" stroke-linecap="round" />
<ellipse cx="194.4" cy="317.0" rx="1.3" ry="1.1" fill="#ffffff" stroke="#cacaca" stroke-width="1.0"/>
<ellipse cx="200.6" cy="319.8" rx="2.2" ry="1.6" fill="#ffffff" stroke="#cacaca" stroke-width="1.1" transform="rotate(20 200.6 319.8)"/>
<ellipse cx="206.5" cy="323.1" rx="1.3" ry="1.1" fill="#ffffff" stroke="#cacaca" stroke-width="1.0"/>
<path d="M193.0,408L193.8,416C194.4,421 193.4,425.6 190.4,429C187,432.6 181.6,435.4 176.6,437.2" fill="none" stroke="#cacaca" stroke-width="8.6" stroke-linejoin="round" stroke-linecap="butt"/>
<path d="M193.0,408L193.8,416C194.4,421 193.4,425.6 190.4,429C187,432.6 181.6,435.4 176.6,437.2" fill="none" stroke="#ffffff" stroke-width="5.8" stroke-linejoin="round" stroke-linecap="butt"/>
<path d="M196.2,364.2L186.6,374.6C184.2,377.6 184.4,381.6 185.2,386L190.6,405.6" fill="none" stroke="#cacaca" stroke-width="11.0" stroke-linejoin="round" stroke-linecap="butt"/>
<path d="M196.2,364.2L186.6,374.6C184.2,377.6 184.4,381.6 185.2,386L190.6,405.6" fill="none" stroke="#ffffff" stroke-width="8.2" stroke-linejoin="round" stroke-linecap="butt"/>
<path d="M192.4,362.4C195.6,362.2 198.8,364.4 200.2,366.6M192.2,365.8C195,365.6 197.6,367.4 198.6,369.4" fill="none" stroke="#cacaca" stroke-width="1.2" stroke-linejoin="round" stroke-linecap="round" />
<path d="M185.6,406.6C188.6,408.6 193,407.6 196,404M186.4,410.4C189.6,412.2 194,411 196.8,407.6" fill="none" stroke="#cacaca" stroke-width="1.2" stroke-linejoin="round" stroke-linecap="round" />
<path d="M169.4,430.0Q171.4,428.2 173.2,430.0L177.2,440.0Q177.9,442.0 177.1,444.0L174.9,450.2Q173.2,452.6 171.4,450.8L166.6,440.8Q165.7,438.4 166.4,436.2Z" fill="#ffffff" stroke="#cacaca" stroke-width="1.5" stroke-linejoin="round" stroke-linecap="round" />
<ellipse cx="171.8" cy="433.2" rx="1.1" ry="1.3" fill="#ffffff" stroke="#cacaca" stroke-width="1.0"/>
<ellipse cx="172.8" cy="440.0" rx="1.6" ry="2.2" fill="#ffffff" stroke="#cacaca" stroke-width="1.1"/>
<ellipse cx="172.8" cy="446.6" rx="1.1" ry="1.3" fill="#ffffff" stroke="#cacaca" stroke-width="1.0"/>
<path d="M192.4,297.6Q192.6,295.4 195.0,295.6L207.4,297.8Q210.4,299.6 213.2,302.4L217.0,307.2Q218.0,309.2 216.6,310.6Q215.4,311.8 213.6,311.6L200.8,308.6Q199.2,307.8 198.0,306.6L192.8,299.6Q192.2,298.6 192.4,297.6Z" fill="#ffffff" stroke="#cacaca" stroke-width="1.6" stroke-linejoin="round" stroke-linecap="round" />
<path d="M149.4,426.6Q151.4,424.8 153.4,426.4L158.2,438.6Q158.9,440.6 158.2,442.6L155.2,451.4Q153.6,453.8 151.6,452.2L145.6,440.2Q144.9,438.0 145.6,436.0Z" fill="#ffffff" stroke="#cacaca" stroke-width="1.6" stroke-linejoin="round" stroke-linecap="round" />
</g>
</svg>
<div id="banner"></div>
<div class="bl" style="left:140.4px;top:459.4px;">Part or sub-assembly is #5 in diagram</div>
<div class="bl" style="left:110.1px;top:479.3px;">Diagram may not be specific to your vehicle</div>
</body></html>
